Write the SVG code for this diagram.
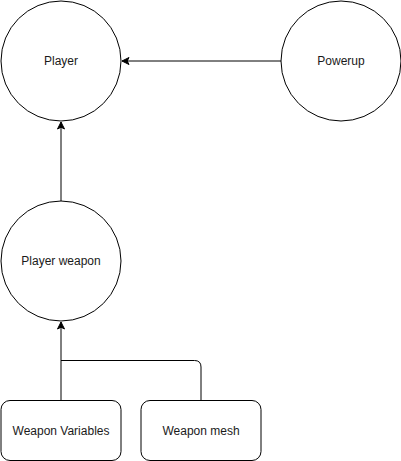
<svg xmlns="http://www.w3.org/2000/svg" width="401" height="461" viewBox="0 0 401 461">
<defs>
<marker id="arrow" markerUnits="userSpaceOnUse" markerWidth="10" markerHeight="10" viewBox="0 0 10 10" refX="8" refY="5" orient="auto">
<path d="M1,1.5 L8,5 L1,8.5 L2.8,5 Z" fill="#000" stroke="#000" stroke-width="1"/>
</marker>
<style>
.node{fill:#fff;stroke:#000;stroke-width:1}
.lbl{font-family:"Liberation Sans",Arial,sans-serif;font-size:12px;fill:#1a1a1a;text-anchor:middle;dominant-baseline:central}
.edge{fill:none;stroke:#000;stroke-width:1}
</style>
</defs>
<rect width="401" height="461" fill="#fff"/>
<g id="connectors">
<path class="edge" d="M281,61 L122,61" marker-end="url(#arrow)"/>
<path class="edge" d="M61,201 L61,122" marker-end="url(#arrow)"/>
<path class="edge" d="M61,400.5 L61,322" marker-end="url(#arrow)"/>
<path class="edge" d="M201,400.5 L201,367 Q201,360.5 194.5,360.5 L61,360.5"/>
</g>
<g id="player">
<circle class="node" cx="61" cy="61" r="60"/>
<text class="lbl" x="61" y="61">Player</text>
</g>
<g id="powerup">
<circle class="node" cx="341" cy="61" r="60"/>
<text class="lbl" x="341" y="61">Powerup</text>
</g>
<g id="player-weapon">
<circle class="node" cx="61" cy="261" r="60"/>
<text class="lbl" x="61" y="261">Player weapon</text>
</g>
<g id="weapon-variables">
<rect class="node" x="1" y="400.5" width="120" height="60" rx="9"/>
<text class="lbl" x="61" y="430.5">Weapon Variables</text>
</g>
<g id="weapon-mesh">
<rect class="node" x="141" y="400.5" width="120" height="60" rx="9"/>
<text class="lbl" x="201" y="430.5">Weapon mesh</text>
</g>
</svg>
